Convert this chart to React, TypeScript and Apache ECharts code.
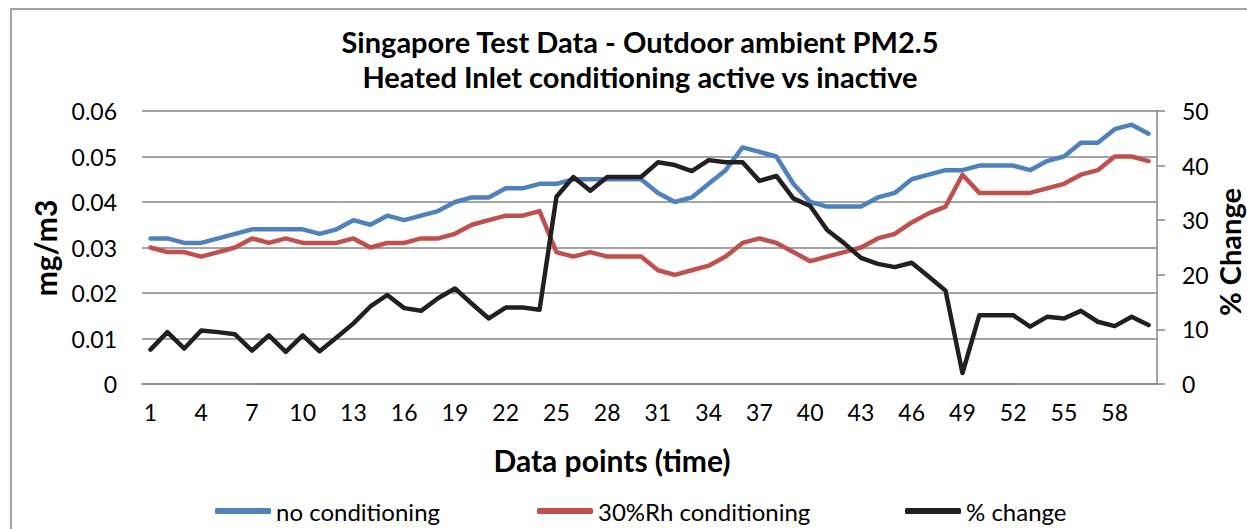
import React, { useEffect, useRef } from "react";
import * as echarts from "echarts";

const categories: string[] = Array.from({ length: 60 }, (_, i) => String(i + 1));

const noConditioning: number[] = [
  0.032, 0.032, 0.031, 0.031, 0.032, 0.033, 0.034, 0.034, 0.034, 0.034,
  0.033, 0.034, 0.036, 0.035, 0.037, 0.036, 0.037, 0.038, 0.040, 0.041,
  0.041, 0.043, 0.043, 0.044, 0.044, 0.045, 0.045, 0.045, 0.045, 0.045,
  0.042, 0.040, 0.041, 0.044, 0.047, 0.052, 0.051, 0.050, 0.044, 0.040,
  0.039, 0.039, 0.039, 0.041, 0.042, 0.045, 0.046, 0.047, 0.047, 0.048,
  0.048, 0.048, 0.047, 0.049, 0.050, 0.053, 0.053, 0.056, 0.057, 0.055,
];

const rhConditioning: number[] = [
  0.030, 0.029, 0.029, 0.028, 0.029, 0.030, 0.032, 0.031, 0.032, 0.031,
  0.031, 0.031, 0.032, 0.030, 0.031, 0.031, 0.032, 0.032, 0.033, 0.035,
  0.036, 0.037, 0.037, 0.038, 0.029, 0.028, 0.029, 0.028, 0.028, 0.028,
  0.025, 0.024, 0.025, 0.026, 0.028, 0.031, 0.032, 0.031, 0.029, 0.027,
  0.028, 0.029, 0.030, 0.032, 0.033, 0.0355, 0.0375, 0.039, 0.046, 0.042,
  0.042, 0.042, 0.042, 0.043, 0.044, 0.046, 0.047, 0.050, 0.050, 0.049,
];

const pctChange: number[] = [
  6.3, 9.5, 6.5, 9.8, 9.5, 9.1, 6.1, 8.9, 5.9, 8.9,
  6.0, 8.5, 11.1, 14.2, 16.3, 13.9, 13.4, 15.7, 17.5, 14.7,
  12.0, 14.0, 14.0, 13.6, 34.3, 37.9, 35.4, 37.9, 37.9, 37.9,
  40.6, 40.1, 39.0, 41.0, 40.6, 40.6, 37.2, 38.1, 34.0, 32.6,
  28.2, 25.8, 23.1, 22.0, 21.4, 22.2, 19.7, 17.1, 2.0, 12.6,
  12.6, 12.6, 10.5, 12.3, 12.0, 13.4, 11.4, 10.6, 12.3, 10.8,
];

const seriesNames = ["no conditioning", "30%Rh conditioning", "% change"];
const seriesColors = ["#4F81BD", "#C0504D", "#231F20"];

const FONT = "Lato, 'Open Sans', sans-serif";
const TICK_SIZE = 23;

export default function App() {
  const ref = useRef<HTMLDivElement>(null);
  useEffect(() => {
    document.body.style.margin = "0";
    if (!ref.current) return;
    const chart = echarts.init(ref.current, undefined, { renderer: "svg" });
    const legendLefts = [210, 532, 900];
    chart.setOption({
      animation: false,
      textStyle: { fontFamily: FONT },
      title: {
        text: "Singapore Test Data - Outdoor ambient PM2.5\nHeated Inlet conditioning active vs inactive",
        left: 635,
        top: 19,
        textAlign: "center",
        textStyle: {
          fontFamily: FONT,
          fontSize: 29,
          fontWeight: "bold",
          color: "#000",
          lineHeight: 35,
        },
      },
      legend: seriesNames.map((n, i) => ({
        data: [n],
        left: legendLefts[i],
        top: 494,
        icon: "roundRect",
        itemWidth: 56,
        itemHeight: 6,
        itemGap: 5,
        textStyle: { fontFamily: FONT, fontSize: 24, color: "#000" },
      })),
      grid: { left: 142, right: 90, top: 111, bottom: 145, containLabel: false },
      xAxis: {
        type: "category",
        data: categories,
        boundaryGap: true,
        axisLine: { show: true, lineStyle: { color: "#868686", width: 1.5 } },
        axisTick: { show: false },
        axisLabel: {
          interval: 2,
          margin: 16,
          fontSize: TICK_SIZE,
          color: "#000",
          fontFamily: FONT,
        },
      },
      yAxis: [
        {
          type: "value",
          min: 0,
          max: 0.06,
          interval: 0.01,
          axisLine: { show: false },
          axisTick: { show: false },
          axisLabel: {
            margin: 25,
            fontSize: TICK_SIZE,
            color: "#000",
            fontFamily: FONT,
            formatter: (v: number) => (v === 0 ? "0" : v.toFixed(2)),
          },
          splitLine: { show: true, lineStyle: { color: "#868686", width: 1.5 } },
        },
        {
          type: "value",
          min: 0,
          max: 50,
          interval: 10,
          position: "right",
          axisLine: { show: true, lineStyle: { color: "#868686", width: 1.5 } },
          axisTick: { show: true, length: 8, lineStyle: { color: "#868686", width: 1.5 } },
          axisLabel: {
            margin: 25,
            fontSize: TICK_SIZE,
            color: "#000",
            fontFamily: FONT,
          },
          splitLine: { show: false },
        },
      ],
      series: [
        {
          name: seriesNames[0],
          type: "line",
          data: noConditioning,
          yAxisIndex: 0,
          symbol: "none",
          color: seriesColors[0],
          lineStyle: { width: 4.5, color: seriesColors[0], join: "round", cap: "round" },
          z: 3,
        },
        {
          name: seriesNames[1],
          type: "line",
          data: rhConditioning,
          yAxisIndex: 0,
          symbol: "none",
          color: seriesColors[1],
          lineStyle: { width: 4.5, color: seriesColors[1], join: "round", cap: "round" },
          z: 4,
        },
        {
          name: seriesNames[2],
          type: "line",
          data: pctChange,
          yAxisIndex: 1,
          symbol: "none",
          color: seriesColors[2],
          lineStyle: { width: 4.5, color: seriesColors[2], join: "round", cap: "round" },
          z: 5,
        },
      ],
      graphic: [
        {
          type: "rect",
          shape: { x: 11, y: 9, width: 1400, height: 700 },
          style: { fill: "none", stroke: "#868686", lineWidth: 1.5 },
          z: -1,
          silent: true,
        },
        {
          type: "text",
          x: 45,
          y: 248,
          rotation: Math.PI / 2,
          style: {
            text: "mg/m3",
            fontFamily: FONT,
            fontSize: 30,
            fontWeight: "bold",
            fill: "#000",
            align: "center",
            verticalAlign: "middle",
          },
        },
        {
          type: "text",
          x: 1229,
          y: 252,
          rotation: Math.PI / 2,
          style: {
            text: "% Change",
            fontFamily: FONT,
            fontSize: 29,
            fontWeight: "bold",
            fill: "#000",
            align: "center",
            verticalAlign: "middle",
          },
        },
        {
          type: "text",
          x: 612,
          y: 460,
          style: {
            text: "Data points (time)",
            fontFamily: FONT,
            fontSize: 30,
            fontWeight: "bold",
            fill: "#000",
            align: "center",
            verticalAlign: "middle",
          },
        },
      ],
    });
    return () => chart.dispose();
  }, []);
  return <div ref={ref} style={{ width: 1247, height: 529 }} />;
}
